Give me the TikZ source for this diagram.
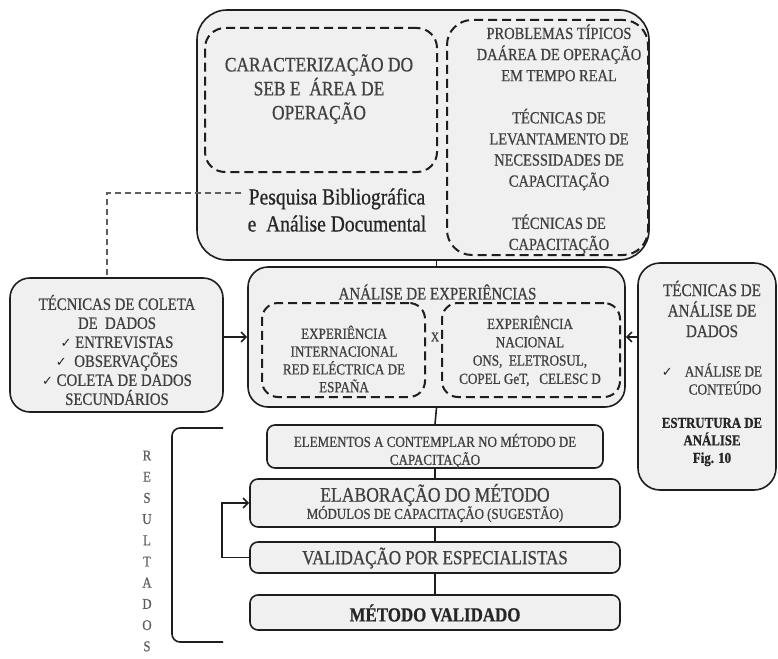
\documentclass[tikz,border=0pt]{standalone}
\usepackage{fontspec}
\setmainfont{Liberation Serif}[FakeStretch=0.85,FakeBold=0.7]
\newfontfamily\symfont{DejaVu Sans}
\usetikzlibrary{arrows.meta}

\definecolor{boxfill}{HTML}{F0F0F0}
\definecolor{edge}{HTML}{1E1E1E}
\definecolor{ink}{HTML}{404040}
\definecolor{darkink}{HTML}{262626}
\definecolor{guide}{HTML}{5E5E5E}

\newcommand\chk{{\symfont\fontsize{13}{13}\selectfont\color{darkink}✓}}
\newcommand\fs[2]{\fontsize{#1}{#2}\selectfont}

\begin{document}
\begin{tikzpicture}[x=1pt,y=-1pt,
  panel/.style={draw=edge,line width=1.6pt,fill=boxfill,inner sep=0pt,rounded corners=#1},
  panel/.default=20pt,
  dashbox/.style={draw=edge,line width=2pt,dash pattern=on 9pt off 5pt,inner sep=0pt,rounded corners=#1},
  dashbox/.default=18pt,
  label/.style={text=ink,align=center,inner sep=0pt},
  link/.style={draw=edge,line width=1.6pt},
  arrowlink/.style={link,-{Straight Barb[length=5pt,width=10pt,line width=1.6pt]}},
  guideline/.style={draw=guide,line width=1.3pt,dash pattern=on 6pt off 4pt}]

\useasboundingbox (0,0) rectangle (778,658);

% literature review block
\node[panel=30pt,minimum width=452pt,minimum height=250pt] (lit) at (423,135) {};
\node[dashbox=20pt,minimum width=232pt,minimum height=144pt] (seb) at (321,100) {};
\node[label,font=\fs{20.5}{24}] (sebtxt) at (319,89)
  {CARACTERIZAÇÃO DO\\SEB E\ \ ÁREA DE\\OPERAÇÃO};
\node[dashbox=25pt,minimum width=201pt,minimum height=235pt] (prob) at (547.5,137.5) {};
\node[label,font=\fs{17}{21.1}] (probtxt) at (559,139)
  {PROBLEMAS TÍPICOS\\DAÁREA DE OPERAÇÃO\\EM TEMPO REAL\\[21.1pt]TÉCNICAS DE\\LEVANTAMENTO DE\\NECESSIDADES DE\\CAPACITAÇÃO\\[21.1pt]TÉCNICAS DE\\CAPACITAÇÃO};
\node[label,text=darkink,font=\fs{23}{27}] (pesq) at (337,210)
  {Pesquisa Bibliográfica\\e\ \ Análise Documental};

% data collection techniques
\node[panel=20pt,minimum width=213pt,minimum height=134pt] (coleta) at (116.5,345) {};
\node[label,font=\fs{17.4}{19}] (coletatxt) at (117,350)
  {TÉCNICAS DE COLETA\\DE\ \ DADOS\\\chk\ ENTREVISTAS\\\chk\ \ OBSERVAÇÕES\\\chk\ COLETA DE DADOS\\SECUNDÁRIOS};

% analysis of experiences
\node[panel=20pt,minimum width=377pt,minimum height=140pt] (exp) at (436.5,337) {};
\node[label,font=\fs{17.6}{20}] (exptitle) at (437.5,292) {ANÁLISE DE EXPERIÊNCIAS};
\node[dashbox=16pt,minimum width=163pt,minimum height=94pt] (intl) at (343.5,350) {};
\node[label,font=\fs{15.4}{17.8}] (intltxt) at (344,359)
  {EXPERIÊNCIA\\INTERNACIONAL\\RED ELÉCTRICA DE\\ESPAÑA};
\node[dashbox=16pt,minimum width=178pt,minimum height=94pt] (natl) at (531,350) {};
\node[label,font=\fs{15.4}{18.3}] (natltxt) at (530,351)
  {EXPERIÊNCIA\\NACIONAL\\ONS,\ \ ELETROSUL,\\COPEL GeT,\ \ \ CELESC D};
\node[label,font=\fs{13}{13}] (vs) at (435,337) {X};

% data analysis techniques
\node[panel=22pt,minimum width=138pt,minimum height=227pt] (ana) at (707,376.5) {};
\node[label,font=\fs{17.8}{20.5}] (anatxt) at (712,309) {TÉCNICAS DE\\ANÁLISE DE\\DADOS};
\node[label,font=\fs{15.5}{18}] (anaitem) at (712,379)
  {\chk\hspace{12pt}ANÁLISE DE\\\hspace*{26pt}CONTEÚDO};
\node[label,text=darkink,font=\bfseries\fs{15.1}{17.5}] (anaref) at (712,442)
  {ESTRUTURA DE\\ANÁLISE\\Fig. 10};

% results chain
\node[panel=8pt,minimum width=336pt,minimum height=43pt] (elem) at (435,446.5) {};
\node[label,font=\fs{15.3}{18}] (elemtxt) at (435,451)
  {ELEMENTOS A CONTEMPLAR NO MÉTODO DE\\CAPACITAÇÃO};
\node[panel=8pt,minimum width=370pt,minimum height=48pt] (elab) at (435,503) {};
\node[label,font=\fs{20.7}{22}] (elabtxt) at (435,495) {ELABORAÇÃO DO MÉTODO};
\node[label,font=\fs{15.2}{17}] (elabsub) at (435,514) {MÓDULOS DE CAPACITAÇÃO (SUGESTÃO)};
\node[panel=8pt,minimum width=370pt,minimum height=31pt] (valid) at (435,557.5) {};
\node[label,font=\fs{20}{22}] (validtxt) at (435,558) {VALIDAÇÃO POR ESPECIALISTAS};
\node[panel=8pt,minimum width=370pt,minimum height=35pt] (metodo) at (435,612.5) {};
\node[label,text=darkink,font=\bfseries\fs{19.9}{22}] (metodotxt) at (435,613) {MÉTODO VALIDADO};

% results bracket and vertical label
\coordinate (brtop) at (223,428);
\coordinate (brbot) at (223,642);
\draw[link,rounded corners=8pt] (brtop) -- (172,428) -- (172,642) -- (brbot);
\node[label,text=guide,font=\fs{15}{21.2}] (resultados) at (147,551)
  {R\\E\\S\\U\\L\\T\\A\\D\\O\\S};

% connectors
\coordinate (pq) at (241,193);
\coordinate (pqbend) at (107,193);
\draw[guideline] (pq) -- (pqbend) -- (pqbend |- coleta.north);
\draw[link] (exp.north |- lit.south) -- (exp.north);
\draw[arrowlink] (coleta.east |- exp.west) -- (exp.west);
\draw[arrowlink] (ana.west |- exp.east) -- (exp.east);
\draw[link] (exp.south) -- (elem.north);
\draw[link] (elem.south) -- (elab.north);
\draw[link] (elab.south) -- (valid.north);
\draw[link] (valid.south) -- (metodo.north);
\draw[arrowlink] (valid.west) -- ++(-27,0) |- (elab.west);
\end{tikzpicture}
\end{document}
